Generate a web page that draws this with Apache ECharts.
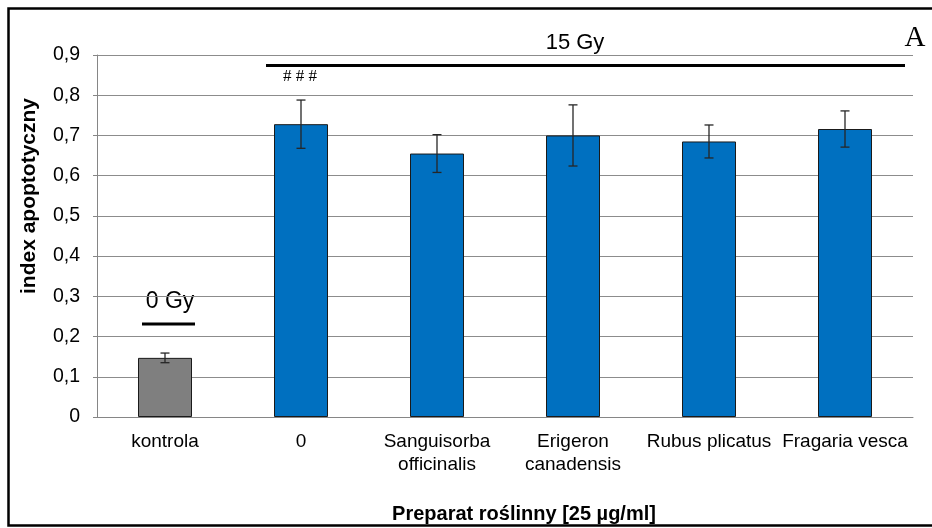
<!DOCTYPE html>
<html>
<head>
<meta charset="utf-8">
<script src="https://cdn.jsdelivr.net/npm/echarts@6/dist/echarts.min.js"></script>
<style>
  html, body { margin: 0; padding: 0; background: #fff; }
  #chart { width: 932px; height: 528px; }
</style>
</head>
<body>
<div id="chart"></div>
<script>
// Apoptotic index per plant extract (25 µg/ml), mean ± SD
const categories = ['kontrola', '0', 'Sanguisorba\nofficinalis', 'Erigeron\ncanadensis', 'Rubus plicatus', 'Fragaria vesca'];
const means = [0.147, 0.728, 0.655, 0.700, 0.685, 0.716];
const errors = [0.012, 0.060, 0.047, 0.076, 0.041, 0.045];
const barColors = ['#7f7f7f', '#0070c0', '#0070c0', '#0070c0', '#0070c0', '#0070c0'];

const yTicks = { min: 0, max: 0.9, interval: 0.1 };

const SANS = "'Liberation Sans', Arial, sans-serif";
const SERIF = "'Liberation Serif', 'Times New Roman', serif";

const chart = echarts.init(document.getElementById('chart'), null, { renderer: 'canvas' });

const barData = means.map((v, i) => ({
  value: v,
  itemStyle: { color: barColors[i] }
}));

const errorData = means.map((v, i) => [i, v, errors[i]]);

chart.setOption({
  animation: false,
  backgroundColor: '#ffffff',
  grid: { left: 97, right: 19, top: 55, bottom: 111, containLabel: false },
  xAxis: [{
    type: 'category',
    data: categories,
    boundaryGap: true,
    axisLine: { lineStyle: { color: '#868686', width: 1 } },
    axisTick: { alignWithLabel: false, length: 6, lineStyle: { color: '#868686' } },
    axisLabel: {
      color: '#000', fontFamily: SANS, fontSize: 19, lineHeight: 23,
      margin: 13, interval: 0
    },
    splitLine: { show: false }
  }, {
    // inner half of the category tick marks
    type: 'category',
    data: categories,
    position: 'bottom',
    boundaryGap: true,
    axisLine: { show: false },
    axisTick: { inside: true, length: 5, lineStyle: { color: '#868686' } },
    axisLabel: { show: false }
  }],
  yAxis: {
    type: 'value',
    min: yTicks.min,
    max: yTicks.max,
    interval: yTicks.interval,
    axisLine: { show: true, lineStyle: { color: '#868686' } },
    axisTick: { show: true, length: 4, lineStyle: { color: '#868686' } },
    axisLabel: {
      color: '#000', fontFamily: SANS, fontSize: 19.5, margin: 17,
      formatter: v => (Math.round(v * 10) / 10).toString().replace('.', ',')
    },
    splitLine: { show: true, lineStyle: { color: '#8c8c8c', width: 1 } }
  },
  series: [{
    type: 'bar',
    data: barData,
    barWidth: 54,
    itemStyle: { borderColor: '#1a1a1a', borderWidth: 1 },
    z: 2
  }, {
    type: 'custom',
    data: errorData,
    z: 5,
    renderItem: function (params, api) {
      const i = api.value(0);
      const m = api.value(1);
      const e = api.value(2);
      const top = api.coord([i, m + e]);
      const bot = api.coord([i, m - e]);
      const cap = 4.5;
      const st = { stroke: '#262626', lineWidth: 1.3 };
      return {
        type: 'group',
        children: [
          { type: 'line', shape: { x1: top[0], y1: top[1], x2: bot[0], y2: bot[1] }, style: st },
          { type: 'line', shape: { x1: top[0] - cap, y1: top[1], x2: top[0] + cap, y2: top[1] }, style: st },
          { type: 'line', shape: { x1: bot[0] - cap, y1: bot[1], x2: bot[0] + cap, y2: bot[1] }, style: st }
        ]
      };
    }
  }],
  graphic: [
    // frame around the figure
    { type: 'rect', shape: { x: 8.5, y: 8.5, width: 940, height: 517 },
      style: { fill: 'none', stroke: '#000', lineWidth: 2.5 }, silent: true },
    // axis titles
    { type: 'text', x: 524, y: 514,
      style: { text: 'Preparat roślinny [25 µg/ml]', font: 'bold 20px ' + SANS, fill: '#000',
               textAlign: 'center', textVerticalAlign: 'middle' } },
    { type: 'text', x: 29, y: 196, rotation: Math.PI / 2,
      style: { text: 'index apoptotyczny', font: 'bold 21px ' + SANS, fill: '#000',
               textAlign: 'center', textVerticalAlign: 'middle' } },
    // irradiation groups
    { type: 'text', x: 575, y: 43,
      style: { text: '15 Gy', font: '22px ' + SANS, fill: '#000',
               textAlign: 'center', textVerticalAlign: 'middle' } },
    { type: 'line', shape: { x1: 266, y1: 65.5, x2: 905, y2: 65.5 },
      style: { stroke: '#000', lineWidth: 3 } },
    { type: 'text', x: 300, y: 77,
      style: { text: '# # #', font: '17px ' + SERIF, fill: '#000',
               textAlign: 'center', textVerticalAlign: 'middle' } },
    { type: 'text', x: 170, y: 302,
      style: { text: '0 Gy', font: '23px ' + SANS, fill: '#000',
               textAlign: 'center', textVerticalAlign: 'middle' } },
    { type: 'line', shape: { x1: 142, y1: 324, x2: 195, y2: 324 },
      style: { stroke: '#000', lineWidth: 3 } },
    // panel letter
    { type: 'text', x: 915, y: 38,
      style: { text: 'A', font: '29px ' + SERIF, fill: '#000',
               textAlign: 'center', textVerticalAlign: 'middle' } }
  ]
});
</script>
</body>
</html>
